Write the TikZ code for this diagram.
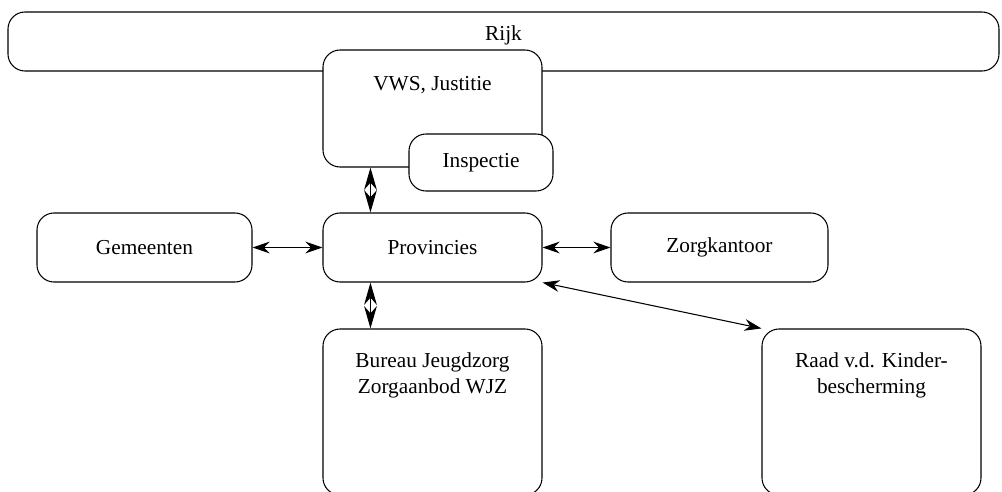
\documentclass[tikz,border=0pt]{standalone}
\usepackage{fontspec}
\setmainfont{Liberation Serif}
\usetikzlibrary{positioning, arrows.meta}

\begin{document}
\begin{tikzpicture}[x=0.0165cm, y=-0.0165cm,
        box/.style={draw, rounded corners=8pt, line width=0.5pt, fill=white, inner sep=0pt},
        link/.style={{Stealth[length=8pt, width=5.5pt]}-{Stealth[length=8pt, width=5.5pt]}, line width=0.5pt},
        vlink/.style={{Stealth[length=10.5pt, width=6pt]}-{Stealth[length=10.5pt, width=6pt]}, line width=0.5pt}]
        % Define unit (one pixel of the page)
        \def\px{0.0165cm}

        % Fix the page size
        \useasboundingbox (0,0) rectangle (1002,492);

        % Draw the top level
        \node[box, minimum width=991*\px, minimum height=59*\px] (rijk) at (503.5, 41.5) {};
        \node[below=0.11cm of rijk.north] (rijklabel) {Rijk};

        % Ministries overlap the top level
        \node[box, minimum width=219*\px, minimum height=117*\px] (vws) at (432.5, 108.5) {};
        \node[below=0.32cm of vws.north] (vwslabel) {VWS, Justitie};
        \node[box, minimum width=144*\px, minimum height=57*\px] (insp) at (481, 162.5) {Inspectie};

        % Middle row
        \node[box, minimum width=215*\px, minimum height=69*\px] (gem) at (144.5, 247.5) {Gemeenten};
        \node[box, minimum width=219*\px, minimum height=69*\px] (prov) at (432.5, 247.5) {Provincies};
        \node[box, minimum width=217*\px, minimum height=69*\px] (zorg) at (719.5, 247.5) {Zorgkantoor};

        % Bottom row (runs off the page)
        \node[box, minimum width=219*\px, minimum height=166*\px] (bureau) at (432.5, 412) {};
        \node[below=0.28cm of bureau.north, align=center] (bureaulabel) {Bureau Jeugdzorg\\Zorgaanbod WJZ};
        \node[box, minimum width=219*\px, minimum height=166*\px] (raad) at (871.5, 412) {};
        \node[below=0.28cm of raad.north, align=center] (raadlabel) {Raad v.d. Kinder-\\bescherming};

        % Connections
        \draw[link] (gem) -- (prov);
        \draw[link] (prov) -- (zorg);
        \draw[link] (prov.south east) -- (raad.north west);
        \draw[vlink] ([xshift=48*\px]vws.south west) -- ([xshift=48*\px]prov.north west);
        \draw[vlink] ([xshift=48*\px]prov.south west) -- ([xshift=48*\px]bureau.north west);

    \end{tikzpicture}
\end{document}
